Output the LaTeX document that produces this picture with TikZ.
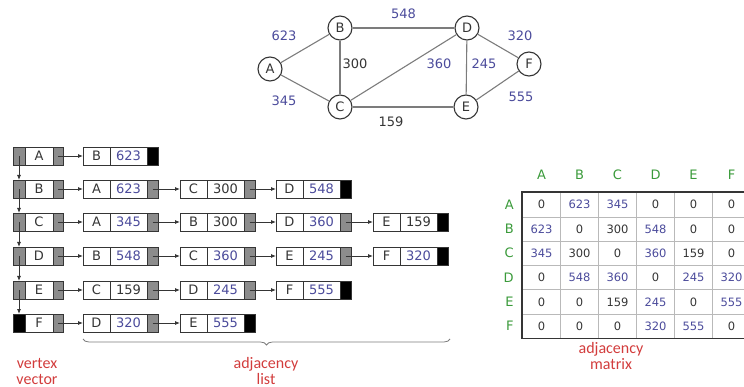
\documentclass[tikz,border=0pt]{standalone}
\usepackage{fontspec}
\setmainfont{DejaVu Sans}
\newfontfamily\lblfont{Carlito}
\usetikzlibrary{positioning, arrows.meta, decorations.pathreplacing, matrix}
\definecolor{cellgray}{HTML}{8C8C8C}
\definecolor{linkgray}{HTML}{7C7C7C}
\definecolor{numblue}{HTML}{4B4B9B}
\definecolor{txtdark}{HTML}{353535}
\definecolor{hdrgreen}{HTML}{3A9A3A}
\definecolor{lblred}{HTML}{D23C3C}

\tikzset{
  vx/.style={circle, draw=txtdark, line width=1.1pt, fill=white, minimum size=24pt, inner sep=0pt, font=\fontsize{13}{15}\selectfont, text=txtdark},
  link/.style={draw=linkgray, line width=1.1pt},
  wlabel/.style={font=\fontsize{13}{15}\selectfont, text=numblue, inner sep=0pt},
  cellbox/.style={draw=txtdark, line width=0.8pt, minimum height=18pt, inner sep=0pt, outer sep=0pt, font=\fontsize{13}{15}\selectfont, text=txtdark},
  ptr/.style={-{Latex[length=5pt,width=4pt]}, line width=0.8pt, draw=txtdark},
  mcell/.style={draw=gray!55, line width=0.6pt, minimum width=38pt, minimum height=24.3pt, inner sep=0pt, font=\fontsize{11.5}{13}\selectfont, text=txtdark},
  hdr/.style={font=\fontsize{13}{15}\selectfont, text=hdrgreen},
  redlbl/.style={font=\lblfont\fontsize{16}{16}\selectfont, text=lblred, align=center, inner sep=0pt}
}

% vertex vector entry: name, y, letter, left fill
\newcommand{\vrow}[4]{%
  \node[cellbox, minimum width=12pt, fill=#4, anchor=west] (#1l) at (13,#2) {};
  \node[cellbox, minimum width=28pt, fill=white, right=0pt of #1l] (#1m) {#3};
  \node[cellbox, minimum width=10pt, fill=cellgray, right=0pt of #1m] (#1r) {};}
% list entry: name, x, y, letter, value, value colour, end fill
\newcommand{\lcell}[7]{%
  \node[cellbox, minimum width=27pt, fill=white, anchor=west] (#1a) at (#2,#3) {#4};
  \node[cellbox, minimum width=37pt, fill=white, text=#6, right=0pt of #1a] (#1b) {#5};
  \node[cellbox, minimum width=11pt, fill=#7, right=0pt of #1b] (#1c) {};}
\newcommand{\bl}[1]{\textcolor{numblue}{#1}}

\begin{document}
\begin{tikzpicture}[x=1pt, y=-1pt]
    \useasboundingbox (0,0) rectangle (744,387);
    \clip (0,0) rectangle (744,387);

    % Graph
    \node[vx] (A) at (270,69) {A};
    \node[vx] (B) at (340,28) {B};
    \node[vx] (C) at (340,107) {C};
    \node[vx] (D) at (467,28) {D};
    \node[vx] (E) at (466,107) {E};
    \node[vx] (F) at (529,64) {F};
    \draw[link] (A) -- node[midway, wlabel, xshift=-21pt, yshift=12.5pt] (wAB) {623} (B);
    \draw[link] (A) -- node[midway, wlabel, xshift=-21pt, yshift=-13pt] (wAC) {345} (C);
    \draw[link] (B) -- node[midway, wlabel, yshift=14pt] (wBD) {548} (D);
    \draw[link] (B) -- node[midway, wlabel, text=txtdark, xshift=15pt, yshift=3.5pt] (wBC) {300} (C);
    \draw[link] (C) -- node[midway, wlabel, xshift=35.5pt, yshift=3.5pt] (wCD) {360} (D);
    \draw[link] (D) -- node[midway, wlabel, xshift=17.5pt, yshift=3.5pt] (wDE) {245} (E);
    \draw[link] (D) -- node[midway, wlabel, xshift=22pt, yshift=10pt] (wDF) {320} (F);
    \draw[link] (E) -- node[midway, wlabel, xshift=23.5pt, yshift=-11.5pt] (wEF) {555} (F);
    \draw[link] (C) -- node[midway, wlabel, text=txtdark, xshift=-12pt, yshift=-15pt] (wCE) {159} (E);

    % Adjacency list
    \vrow{A}{156}{A}{cellgray}
    \lcell{A1}{83}{156}{B}{623}{numblue}{black}
    \vrow{B}{189}{B}{cellgray}
    \lcell{B1}{83}{189}{A}{623}{numblue}{cellgray}
    \lcell{B2}{180}{189}{C}{300}{txtdark}{cellgray}
    \lcell{B3}{276}{189}{D}{548}{numblue}{black}
    \vrow{C}{222}{C}{cellgray}
    \lcell{C1}{83}{222}{A}{345}{numblue}{cellgray}
    \lcell{C2}{180}{222}{B}{300}{txtdark}{cellgray}
    \lcell{C3}{276}{222}{D}{360}{numblue}{cellgray}
    \lcell{C4}{373}{222}{E}{159}{txtdark}{black}
    \vrow{D}{256}{D}{cellgray}
    \lcell{D1}{83}{256}{B}{548}{numblue}{cellgray}
    \lcell{D2}{180}{256}{C}{360}{numblue}{cellgray}
    \lcell{D3}{276}{256}{E}{245}{numblue}{cellgray}
    \lcell{D4}{373}{256}{F}{320}{numblue}{black}
    \vrow{E}{290}{E}{cellgray}
    \lcell{E1}{83}{290}{C}{159}{txtdark}{cellgray}
    \lcell{E2}{180}{290}{D}{245}{numblue}{cellgray}
    \lcell{E3}{276}{290}{F}{555}{numblue}{black}
    \vrow{F}{323}{F}{black}
    \lcell{F1}{83}{323}{D}{320}{numblue}{cellgray}
    \lcell{F2}{180}{323}{E}{555}{numblue}{black}

    \foreach \u/\v in {Ar/A1a, Br/B1a, B1c/B2a, B2c/B3a, Cr/C1a, C1c/C2a, C2c/C3a, C3c/C4a,
                       Dr/D1a, D1c/D2a, D2c/D3a, D3c/D4a, Er/E1a, E1c/E2a, E2c/E3a, Fr/F1a, F1c/F2a}
        \draw[ptr] (\u.center) -- (\v.west);
    \foreach \u/\v in {Al/Bl, Bl/Cl, Cl/Dl, Dl/El, El/Fl}
        \draw[ptr] (\u.center) -- (\v.north);

    % Brace and captions
    \coordinate (brL) at (83,339);
    \coordinate (brR) at (450,339);
    \draw[linkgray, line width=0.8pt, decorate, decoration={brace, mirror, amplitude=6pt}] (brL) -- (brR);
    \node[redlbl] (vvec) at (37,371) {vertex\\vector};
    \node[redlbl] (alist) at (266,371) {adjacency\\list};

    % Adjacency matrix
    \matrix (adjm) [matrix of nodes, anchor=north west, inner sep=0pt, column sep=-0.6pt, row sep=-0.6pt, nodes={mcell}] at (522,192) {
        0 & \bl{623} & \bl{345} & 0 & 0 & 0 \\
        \bl{623} & 0 & 300 & \bl{548} & 0 & 0 \\
        \bl{345} & 300 & 0 & \bl{360} & 159 & 0 \\
        0 & \bl{548} & \bl{360} & 0 & \bl{245} & \bl{320} \\
        0 & 0 & 159 & \bl{245} & 0 & \bl{555} \\
        0 & 0 & 0 & \bl{320} & \bl{555} & 0 \\
    };
    \draw[line width=1.6pt, draw=txtdark] (adjm-1-1.north west) rectangle (adjm-6-6.south east);
    \foreach \c [count=\i] in {A,B,C,D,E,F} {
        \node[hdr, above=9pt of adjm-1-\i] (col\c) {\c};
        \node[hdr, left=5pt of adjm-\i-1] (row\c) {\c};
    }
    \node[redlbl] (amat) at (611,356) {adjacency\\matrix};
\end{tikzpicture}
\end{document}
